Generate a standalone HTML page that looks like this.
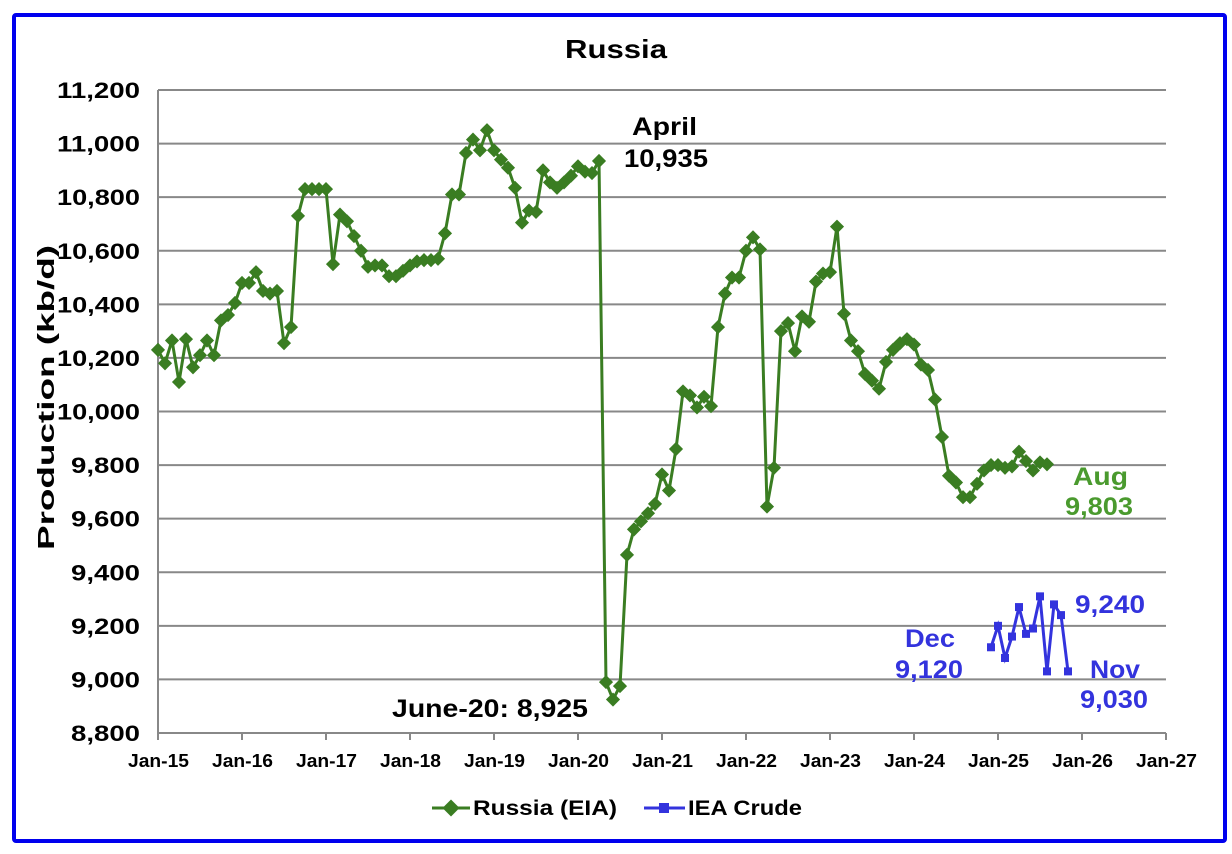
<!DOCTYPE html>
<html><head><style>
html,body{margin:0;padding:0;background:#fff;}
svg{display:block;font-family:"Liberation Sans",Arial,sans-serif;font-weight:bold;}
</style></head><body>
<svg id="s" width="1232" height="854" viewBox="0 0 1232 854" xmlns="http://www.w3.org/2000/svg">
<rect x="14" y="15" width="1211" height="826" fill="#fff" stroke="#0000ee" stroke-width="4" rx="2"/>
<text x="565" y="58" font-size="26" textLength="102" lengthAdjust="spacingAndGlyphs">Russia</text>
<g id="grid"></g>
<text transform="translate(54,550) rotate(-90)" font-size="23" textLength="305" lengthAdjust="spacingAndGlyphs">Production (kb/d)</text>
<g id="series"></g>
<g font-size="25" lengthAdjust="spacingAndGlyphs">
<text x="632" y="135" textLength="65" lengthAdjust="spacingAndGlyphs">April</text>
<text x="624" y="167" textLength="84" lengthAdjust="spacingAndGlyphs">10,935</text>
<text x="392" y="717" textLength="196" lengthAdjust="spacingAndGlyphs">June-20: 8,925</text>
<text x="1073" y="485" fill="#4a9a2e" textLength="55" lengthAdjust="spacingAndGlyphs">Aug</text>
<text x="1065" y="515" fill="#4a9a2e" textLength="68" lengthAdjust="spacingAndGlyphs">9,803</text>
<text x="905" y="647" fill="#3333dd" textLength="50" lengthAdjust="spacingAndGlyphs">Dec</text>
<text x="895" y="678" fill="#3333dd" textLength="68" lengthAdjust="spacingAndGlyphs">9,120</text>
<text x="1075" y="613" fill="#3333dd" textLength="70" lengthAdjust="spacingAndGlyphs">9,240</text>
<text x="1090" y="678" fill="#3333dd" textLength="50" lengthAdjust="spacingAndGlyphs">Nov</text>
<text x="1080" y="708" fill="#3333dd" textLength="68" lengthAdjust="spacingAndGlyphs">9,030</text>
</g>
<g font-size="21">
<line x1="432" y1="808" x2="470" y2="808" stroke="#3a7d22" stroke-width="3"/>
<rect x="445" y="802" width="12" height="12" fill="#3a7d22" transform="rotate(45 451 808)"/>
<text x="473" y="815" textLength="144" lengthAdjust="spacingAndGlyphs">Russia (EIA)</text>
<line x1="644" y1="808" x2="685" y2="808" stroke="#3333dd" stroke-width="3"/>
<rect x="659" y="803" width="10" height="10" fill="#3333dd"/>
<text x="688" y="815" textLength="114" lengthAdjust="spacingAndGlyphs">IEA Crude</text>
</g>
</svg>
<script>
var NS="http://www.w3.org/2000/svg";
function el(p,t,a,txt){var e=document.createElementNS(NS,t);for(var k in a)e.setAttribute(k,a[k]);if(txt!=null)e.textContent=txt;p.appendChild(e);return e;}
var X0=158,PY=84,x1=X0+12*PY;
function X(m){return X0+m*PY/12;}
function Y(v){return 90+(11200-v)*643/2400;}
var g=document.getElementById('grid');
for(var v=8800;v<=11200;v+=200){var y=Y(v);
 el(g,'line',{x1:X0,x2:x1,y1:y,y2:y,stroke:'#888','stroke-width':2});
 var t=v.toLocaleString('en-US');var w=t.length==6?83:69;
 el(g,'text',{x:140-w,y:y+8,'font-size':22,textLength:w,lengthAdjust:'spacingAndGlyphs'},t);}
el(g,'line',{x1:X0,x2:X0,y1:90,y2:Y(8800),stroke:'#888','stroke-width':2});
for(var i=0;i<=12;i++){var x=X0+i*PY;
 el(g,'line',{x1:x,x2:x,y1:Y(8800),y2:Y(8800)+7,stroke:'#888','stroke-width':2});
 el(g,'text',{x:x-30,y:767,'font-size':18,textLength:61,lengthAdjust:'spacingAndGlyphs'},'Jan-'+(15+i));}
var d=[10230,10180,10265,10110,10270,10165,10210,10265,10210,10340,10360,10405,
10480,10480,10520,10450,10440,10450,10255,10315,10730,10830,10830,10830,
10830,10550,10735,10710,10655,10600,10540,10545,10545,10505,10505,10525,
10545,10560,10565,10565,10570,10665,10810,10810,10965,11015,10975,11050,
10975,10940,10910,10835,10705,10750,10745,10900,10855,10835,10855,10880,
10915,10895,10890,10935,8990,8925,8975,9465,9560,9590,9620,9655,
9765,9705,9860,10075,10060,10015,10055,10020,10315,10440,10500,10500,
10600,10650,10605,9645,9790,10300,10330,10225,10355,10335,10485,10515,
10520,10690,10365,10265,10225,10140,10115,10085,10185,10230,10255,10270,
10250,10175,10155,10045,9905,9760,9735,9680,9680,9730,9780,9800,
9800,9790,9795,9850,9815,9780,9810,9803];
var s=document.getElementById('series');
var pts=d.map(function(v,i){return X(i)+','+Y(v);}).join(' ');
el(s,'polyline',{points:pts,fill:'none',stroke:'#3a7d22','stroke-width':3});
d.forEach(function(v,i){var x=X(i),y=Y(v);el(s,'rect',{x:x-5,y:y-5,width:10,height:10,fill:'#3a7d22',transform:'rotate(45 '+x+' '+y+')'});});
var e=[9120,9200,9080,9160,9270,9170,9190,9310,9030,9280,9240,9030];
var p2=e.map(function(v,i){return X(119+i)+','+Y(v);}).join(' ');
el(s,'polyline',{points:p2,fill:'none',stroke:'#3333dd','stroke-width':3});
e.forEach(function(v,i){var x=X(119+i),y=Y(v);el(s,'rect',{x:x-4,y:y-4,width:8,height:8,fill:'#3333dd'});});
</script>
</body></html>
